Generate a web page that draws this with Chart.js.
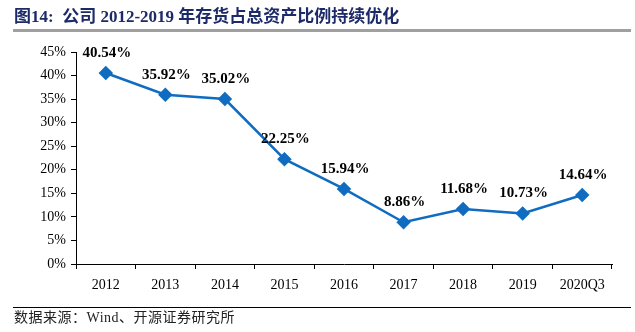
<!DOCTYPE html>
<html>
<head>
<meta charset="utf-8">
<script src="https://cdn.jsdelivr.net/npm/chart.js@4/dist/chart.umd.min.js"></script>
<style>
  html, body { margin: 0; padding: 0; background: #fff; }
  #wrap { position: relative; width: 635px; height: 332px; overflow: hidden; }
  #title {
    position: absolute; left: 14px; top: 6px; line-height: 22px;
    font-family: "Liberation Serif", "Noto Sans CJK SC", serif;
    font-weight: bold; font-size: 17px; color: #1c2a68; white-space: nowrap;
  }
  #titleLine { position: absolute; left: 13px; top: 29px; width: 618px; height: 3px; background: #a0a0a0; }
  #srcLine { position: absolute; left: 13px; top: 307px; width: 618px; height: 1px; background: #000; }
  #source {
    position: absolute; left: 14px; top: 308px; line-height: 19px; letter-spacing: 0.5px;
    font-family: "Liberation Serif", "Noto Sans CJK SC", serif;
    font-size: 14px; color: #222; white-space: nowrap;
  }
  #chart { position: absolute; left: 0; top: 0; }
</style>
</head>
<body>
<div id="wrap">
  <canvas id="chart" width="635" height="332"></canvas>
  <div id="title">图14:&nbsp; 公司 2012-2019 年存货占总资产比例持续优化</div>
  <div id="titleLine"></div>
  <div id="srcLine"></div>
  <div id="source">数据来源：Wind、开源证券研究所</div>
</div>
<script>
var years = ['2012', '2013', '2014', '2015', '2016', '2017', '2018', '2019', '2020Q3'];
var ratio = [40.54, 35.92, 35.02, 22.25, 15.94, 8.86, 11.68, 10.73, 14.64];
var yTicks = [0, 5, 10, 15, 20, 25, 30, 35, 40, 45];

var lineBlue = '#0f6cc0';
var serif = '"Liberation Serif", "Times New Roman", serif';

// value labels above each point
var pointLabels = {
	id: 'pointLabels',
	afterDatasetsDraw: function(chart) {
		var c = chart.ctx;
		var meta = chart.getDatasetMeta(0);
		c.save();
		c.font = 'bold 15px ' + serif;
		c.fillStyle = '#000';
		c.textAlign = 'center';
		c.textBaseline = 'middle';
		meta.data.forEach(function(pt, i) {
			c.fillText(ratio[i].toFixed(2) + '%', pt.x + 1, pt.y - 20);
		});
		c.restore();
	}
};

var ctx = document.getElementById('chart');
var chart = new Chart(ctx, {
	type: 'line',
	data: {
		labels: years,
		datasets: [
			{
				data: ratio,
				borderColor: lineBlue,
				backgroundColor: lineBlue,
				borderWidth: 2.5,
				pointStyle: 'rectRot',
				pointRadius: 5.5,
				pointBackgroundColor: lineBlue,
				pointBorderColor: lineBlue,
				fill: false,
				tension: 0
			}
		]
	},
	options: {
		responsive: false,
		animation: false,
		devicePixelRatio: 1,
		layout: { padding: { left: 0, right: 23, top: 52, bottom: 38 } },
		plugins: {
			legend: { display: false },
			tooltip: { enabled: false }
		},
		scales: {
			x: {
				offset: true,
				grid: { offset: true, drawOnChartArea: false, drawTicks: true, tickLength: 5, color: '#000' },
				border: { color: '#000', width: 1 },
				ticks: { color: '#000', font: { family: serif, size: 14 }, padding: 8, maxRotation: 0 },
				afterFit: function(scale) { scale.height = 30; }
			},
			y: {
				min: 0,
				max: 45,
				afterBuildTicks: function(scale) {
					scale.ticks = yTicks.map(function(v) { return { value: v }; });
				},
				grid: { drawOnChartArea: false, drawTicks: true, tickLength: 5, color: '#000' },
				border: { color: '#000', width: 1 },
				ticks: {
					color: '#000',
					font: { family: serif, size: 14 },
					padding: 5,
					callback: function(v) { return v + '%'; }
				},
				afterFit: function(scale) { scale.width = 76; }
			}
		}
	},
	plugins: [pointLabels]
});
</script>
</body>
</html>
